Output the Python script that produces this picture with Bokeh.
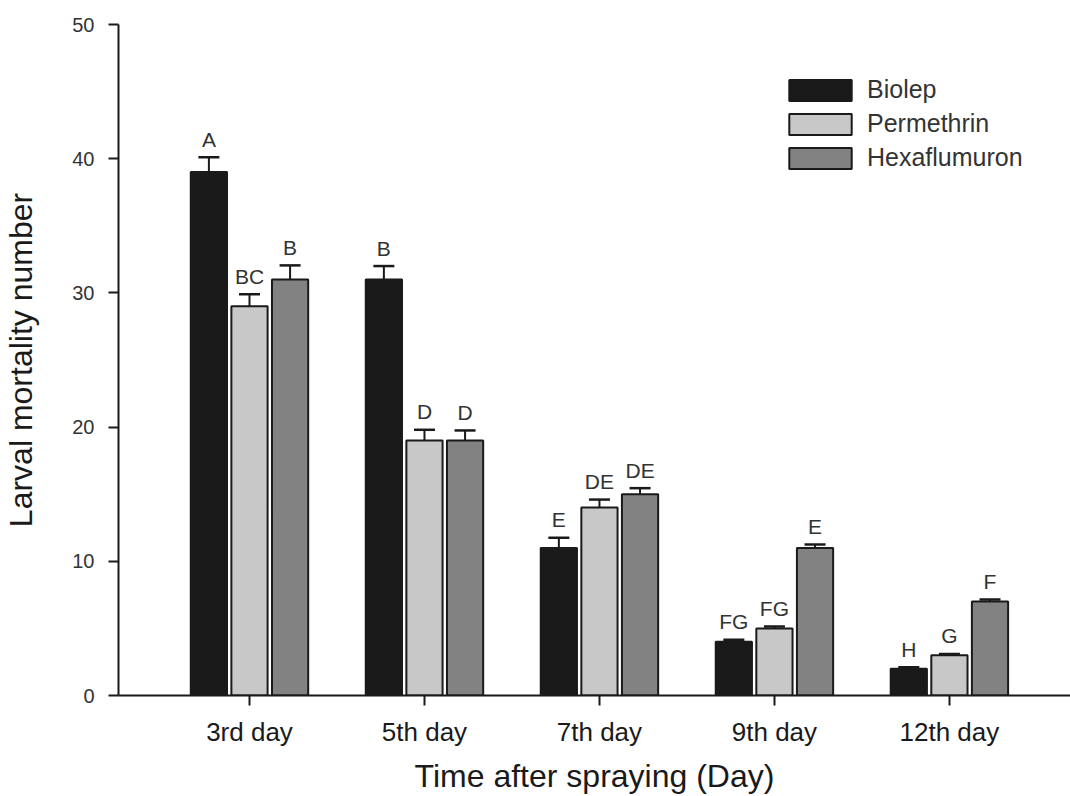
from bokeh.plotting import figure
from bokeh.models import FixedTicker, Legend, LegendItem
from bokeh.core.properties import value
from bokeh.embed import file_html
from bokeh.resources import INLINE

# ---- data ----
days = ["3rd day", "5th day", "7th day", "9th day", "12th day"]
biolep = [39, 31, 11, 4, 2]
biolep_err = [1.1, 1.0, 0.75, 0.15, 0.1]
permethrin = [29, 19, 14, 5, 3]
permethrin_err = [0.9, 0.8, 0.6, 0.15, 0.1]
hexaflumuron = [31, 19, 15, 11, 7]
hexaflumuron_err = [1.05, 0.75, 0.45, 0.25, 0.15]
biolep_letters = ["A", "B", "E", "FG", "H"]
permethrin_letters = ["BC", "D", "DE", "FG", "G"]
hexaflumuron_letters = ["B", "D", "DE", "E", "F"]
series_names = ["Biolep", "Permethrin", "Hexaflumuron"]
y_ticks = [0, 10, 20, 30, 40, 50]

FONT = "Liberation Sans"
INK = "#1a1a1a"
TXT = "#333333"

positions = list(range(1, len(days) + 1))

p = figure(width=1070, height=796, x_range=(0.2514, 5.692), y_range=(0, 50),
           output_backend="svg", toolbar_location=None,
           min_border_left=118, min_border_right=0, min_border_top=24, min_border_bottom=100)
p.outline_line_color = None
p.xgrid.visible = False
p.ygrid.visible = False
p.background_fill_color = "white"

series = [
    (biolep, biolep_err, biolep_letters, "#1a1a1a", -0.232),
    (permethrin, permethrin_err, permethrin_letters, "#c8c8c8", 0.0),
    (hexaflumuron, hexaflumuron_err, hexaflumuron_letters, "#828282", 0.232),
]

renderers = []
for vals, errs, letters, color, off in series:
    xs = [x + off for x in positions]
    tops = [v + e for v, e in zip(vals, errs)]
    r = p.vbar(x=xs, top=vals, bottom=0, width=0.207, fill_color=color,
               line_color=INK, line_width=2)
    renderers.append(r)
    p.segment(x0=xs, y0=vals, x1=xs, y1=tops, line_color=INK, line_width=2)
    p.segment(x0=[x - 0.06 for x in xs], y0=tops, x1=[x + 0.06 for x in xs], y1=tops,
              line_color=INK, line_width=2.5)
    p.text(x=xs, y=tops, text=letters, text_align="center", text_baseline="alphabetic",
           y_offset=-18, text_font=value(FONT), text_font_size="21px", text_color=TXT)

legend = Legend(items=[LegendItem(label=n, renderers=[r]) for n, r in zip(series_names, renderers)],
                location=(663, 523), border_line_color=None, background_fill_alpha=0,
                glyph_width=78, glyph_height=26, label_text_font=FONT,
                label_text_font_size="25px", label_text_color=TXT, spacing=5,
                padding=0, margin=0, label_standoff=8)
p.add_layout(legend)

# y axis
yax = p.yaxis[0]
yax.ticker = FixedTicker(ticks=y_ticks)
yax.minor_tick_line_color = None
yax.major_tick_out = 10
yax.major_tick_in = 0
yax.axis_line_width = 2
yax.major_tick_line_width = 2
yax.axis_line_color = INK
yax.major_tick_line_color = INK
yax.major_label_text_font = FONT
yax.major_label_text_font_size = "20px"
yax.major_label_text_color = TXT
yax.major_label_standoff = 14
yax.axis_label = "Larval mortality number"
yax.axis_label_text_font = FONT
yax.axis_label_text_font_size = "32px"
yax.axis_label_text_font_style = "normal"
yax.axis_label_text_color = INK
yax.axis_label_standoff = 30

# x axis
xax = p.xaxis[0]
xax.ticker = FixedTicker(ticks=positions)
xax.major_label_overrides = {pos: d for pos, d in zip(positions, days)}
xax.minor_tick_line_color = None
xax.major_tick_out = 10
xax.major_tick_in = 0
xax.axis_line_width = 2
xax.major_tick_line_width = 2
xax.axis_line_color = INK
xax.major_tick_line_color = INK
xax.major_label_text_font = FONT
xax.major_label_text_font_size = "26px"
xax.major_label_text_color = INK
xax.major_label_standoff = 11
xax.axis_label = "Time after spraying (Day)"
xax.axis_label_text_font = FONT
xax.axis_label_text_font_size = "32px"
xax.axis_label_text_font_style = "normal"
xax.axis_label_text_color = INK
xax.axis_label_standoff = 8

open("out.html", "w").write(file_html(p, INLINE))
